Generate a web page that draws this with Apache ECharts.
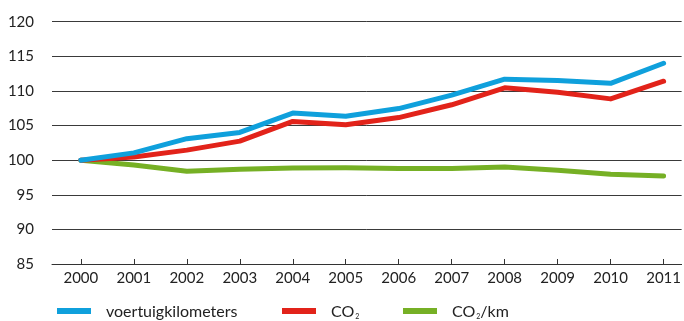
<!DOCTYPE html>
<html><head><meta charset="utf-8">
<script src="https://cdn.jsdelivr.net/npm/echarts@6/dist/echarts.min.js"></script>
<style>html,body{margin:0;padding:0;background:#fff}#c{width:684px;height:321px}</style>
</head><body><div id="c"></div>
<script>
const years = [2000,2001,2002,2003,2004,2005,2006,2007,2008,2009,2010,2011];
const voertuigkilometers = [100,101.05,103.1,104.0,106.8,106.35,107.45,109.4,111.7,111.5,111.1,114.0];
const co2 = [100,100.45,101.45,102.75,105.6,105.1,106.15,108.0,110.45,109.8,108.85,111.4];
const co2PerKm = [100,99.3,98.4,98.7,98.85,98.9,98.8,98.8,99.0,98.55,97.98,97.7];
const yTicks = [85,90,95,100,105,110,115,120];

const font = 'Lato';
const pair = arr => years.map((y,i)=>[y,arr[i]]);
const chart = echarts.init(document.getElementById('c'));
const rich = {a:{fontFamily:font,fontSize:16,color:'#222'},b:{fontFamily:font,fontSize:7,color:'#222',verticalAlign:'bottom',padding:[10,0,0,1]}};
function leg(name,left,label){
  return {data:[name],left:left,top:299,icon:'rect',itemWidth:34,itemHeight:6,itemGap:0,
    textStyle:{rich:rich,padding:[2,0,0,10]},formatter:()=>label,selectedMode:false};
}
chart.setOption({
  animation:false,
  grid:{left:52,right:0,top:21.7,bottom:57},
  legend:[
    leg('voertuigkilometers',52,'{a|voertuigkilometers}'),
    leg('CO2',277,'{a|CO}{b|2}'),
    leg('CO2/km',398,'{a|CO}{b|2}{a|/km}')
  ],
  xAxis:{type:'value',min:1999.455,max:2011.34,
    axisLine:{show:true,lineStyle:{color:'#333',width:1}},
    axisTick:{show:true,inside:true,length:5,lineStyle:{color:'#333'},customValues:years},
    axisLabel:{customValues:years,margin:7,fontFamily:font,fontSize:15,color:'#222',formatter:v=>String(Math.round(v))},
    splitLine:{show:false}},
  yAxis:{type:'value',min:yTicks[0],max:yTicks[yTicks.length-1],interval:5,
    axisLine:{show:false},axisTick:{show:false},
    axisLabel:{margin:18,fontFamily:font,fontSize:15,color:'#222'},
    splitLine:{lineStyle:{color:'#3a3a3a',width:1}}},
  series:[
    {name:'voertuigkilometers',type:'line',data:pair(voertuigkilometers),showSymbol:false,color:'#0fa0dc',lineStyle:{width:5,color:'#0fa0dc',cap:'round',join:'round'},z:3},
    {name:'CO2',type:'line',data:pair(co2),showSymbol:false,color:'#e2231a',lineStyle:{width:5,color:'#e2231a',cap:'round',join:'round'},z:2},
    {name:'CO2/km',type:'line',data:pair(co2PerKm),showSymbol:false,color:'#76b025',lineStyle:{width:5,color:'#76b025',cap:'round',join:'round'},z:1}
  ]
});
</script></body></html>
